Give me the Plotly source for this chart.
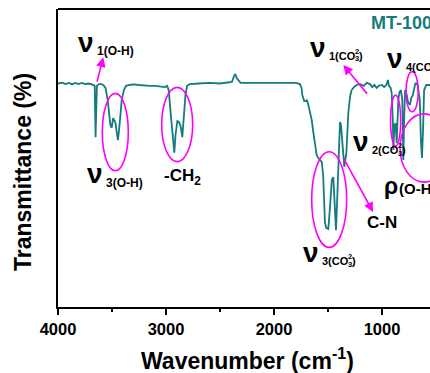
import plotly.graph_objects as go

# ---- data ----
wavenumber = [4000, 3960, 3930, 3900, 3870, 3840, 3810, 3780, 3750, 3720, 3690, 3670, 3660, 3652, 3646,
              3640, 3620, 3600, 3580, 3560, 3540, 3515, 3503, 3490, 3470, 3445, 3430, 3410, 3390, 3370,
              3340, 3300, 3250, 3200, 3150, 3100, 3050, 3010, 2990, 2975, 2955, 2935, 2923, 2912, 2895,
              2880, 2865, 2849, 2835, 2820, 2805, 2780, 2700, 2600, 2500, 2420, 2390, 2370, 2360, 2345,
              2330, 2310, 2200, 2100, 2000, 1900, 1800, 1760, 1745, 1738, 1720, 1705, 1695, 1682, 1665,
              1651, 1635, 1620, 1605, 1590, 1570, 1558, 1545, 1535, 1528, 1515, 1497, 1480, 1465, 1451,
              1440, 1426, 1415, 1404, 1395, 1389, 1380, 1370, 1360, 1349, 1340, 1330, 1312, 1295, 1281,
              1260, 1235, 1200, 1170, 1140, 1111, 1090, 1070, 1050, 1030, 1000, 980, 960, 945, 935,
              920, 910, 900, 895, 885, 875, 864, 855, 849, 838, 825, 812, 803, 795, 786,
              770, 760, 741, 730, 715, 700, 690, 670, 650, 640, 630, 620, 610, 590, 560, 540]
transmittance = [75.0, 75.3, 74.8, 75.2, 74.7, 75.2, 74.8, 75.2, 74.8, 75.0, 74.8, 74.5, 74.2, 57.0, 71.1,
                 74.2, 74.8, 74.8, 74.5, 73.5, 69.5, 61.1, 60.1, 63.4, 62.1, 56.0, 61.1, 69.5, 72.8, 74.2,
                 74.5, 74.7, 74.5, 74.3, 74.2, 74.2, 74.0, 73.8, 74.2, 72.8, 64.4, 56.0, 51.8, 57.7, 62.4,
                 62.1, 60.7, 57.0, 64.4, 71.1, 74.2, 74.8, 75.0, 75.2, 75.0, 75.2, 75.5, 77.5, 78.2, 76.8,
                 76.2, 75.2, 75.2, 75.2, 75.2, 75.0, 75.2, 74.8, 73.5, 71.1, 69.1, 69.1, 69.5, 67.8, 65.4,
                 62.8, 58.4, 53.7, 51.0, 50.0, 49.3, 48.7, 44.3, 35.9, 28.2, 26.5, 26.2, 34.2, 42.6, 43.6,
                 35.9, 25.8, 35.9, 46.0, 59.4, 62.1, 61.1, 56.0, 51.0, 47.0, 49.3, 51.7, 65.1, 70.8, 72.8,
                 73.8, 74.5, 74.8, 74.2, 75.2, 74.8, 73.8, 74.5, 73.5, 74.2, 74.5, 73.8, 74.5, 76.2, 74.2,
                 73.5, 71.8, 62.8, 52.7, 61.1, 61.7, 55.0, 64.4, 69.5, 72.1, 72.8, 69.5, 49.3, 62.8, 72.8,
                 71.1, 68.8, 67.8, 70.1, 71.1, 73.5, 75.2, 74.5, 69.5, 56.0, 50.0, 59.4, 72.8, 74.5, 74.5, 74.2]
x_ticks = [4000, 3000, 2000, 1000]
x_minor_ticks = [3500, 2500, 1500, 500]
series_name = "MT-100"

TEAL = "#167b7d"
MAG = "#ff00ff"
FONT = "Liberation Sans, Arial, sans-serif"

# plot-area geometry in pixels
L, R, T, B = 58, 430, 9, 307
W, H = 430, 373


def paper(px, py):
    return (px - L) / (R - L), (B - py) / (B - T)


fig = go.Figure()
fig.add_trace(go.Scatter(x=wavenumber, y=transmittance, mode="lines",
                         line=dict(color=TEAL, width=1.8), name=series_name,
                         showlegend=False))

annotations = []


def txt(s, px, py, size, anchor="left", color="black"):
    x, y = paper(px, py)
    annotations.append(dict(text="<b>%s</b>" % s, x=x, y=y, xref="paper", yref="paper",
                            xanchor=anchor, yanchor="middle", showarrow=False,
                            font=dict(family=FONT, size=size, color=color)))


def nu_label(sub, px, py, co3=False):
    # Greek letter, then subscript (optionally with stacked 2 / 3 of CO3)
    txt("ν", px, py, 28, "center")
    sx, sy = px + 8.5, py + 9
    if not co3:
        txt(sub, sx, sy, 12)
    else:
        txt(sub + "(CO", sx, sy, 11)
        ex = sx + 26
        txt("2", ex, sy - 5, 7.5)
        txt("3", ex, sy + 3, 7.5)
        txt(")", ex + 4.5, sy, 11)


nu_label("1(O-H)", 86, 42)
nu_label("3(O-H)", 95, 174)
txt("-CH<sub>2</sub>", 182, 177, 17, "center")
nu_label("1", 318, 47, co3=True)
nu_label("4", 395, 58, co3=True)
nu_label("2", 361, 141, co3=True)
nu_label("3", 311, 252, co3=True)
txt("ρ", 391, 186, 23, "center")
txt("(O-H", 397, 188, 15)
txt("C-N", 381.5, 222.5, 17, "center")
txt(series_name, 369, 23, 18, "left", TEAL)

# arrows (data coordinates)
for (hx, hy, tx, ty) in [(3581, 83.8, 3642, 75.1), (1358, 81.2, 1127, 71.1), (1083, 31.9, 1361, 50.3)]:
    annotations.append(dict(x=hx, y=hy, ax=tx, ay=ty, xref="x", yref="y", axref="x", ayref="y",
                            text="", showarrow=True, arrowhead=2, arrowsize=1.2, arrowwidth=1.6,
                            arrowcolor=MAG))

# x-title and y-title
xt, yt = paper(247, 359)
annotations.append(dict(text="<b>Wavenumber (cm<sup>-1</sup>)</b>", x=xt, y=yt, xref="paper", yref="paper",
                        xanchor="center", yanchor="middle", showarrow=False,
                        font=dict(family=FONT, size=23, color="black")))
xt, yt = paper(23, 172)
annotations.append(dict(text="<b>Transmittance (%)</b>", x=xt, y=yt, xref="paper", yref="paper",
                        xanchor="center", yanchor="middle", showarrow=False, textangle=-90,
                        font=dict(family=FONT, size=23, color="black")))

# ellipses (data coordinates)
shapes = []
for (x0, x1, y0, y1) in [(3590, 3349, 71.7, 45.7), (3040, 2753, 73.7, 48.8), (1651, 1327, 52.1, 20.0),
                         (921, 827, 71.1, 54.0), (778, 664, 79.0, 65.5), (833, 389, 64.8, 41.9)]:
    shapes.append(dict(type="circle", xref="x", yref="y", x0=x0, x1=x1, y0=y0, y1=y1,
                       line=dict(color=MAG, width=1.6)))
shapes.append(dict(type="line", xref="paper", yref="paper", x0=0, x1=1, y0=1, y1=1,
                   line=dict(color="black", width=2)))

x_right = 4000 - (R - L) / 0.108
fig.update_layout(
    width=W, height=H, margin=dict(l=L, r=W - R, t=T, b=H - B),
    paper_bgcolor="white", plot_bgcolor="white",
    annotations=annotations, shapes=shapes,
    xaxis=dict(range=[4000, x_right], tickvals=x_ticks, ticktext=[str(v) for v in x_ticks],
               ticks="outside", ticklen=6, tickwidth=2, tickcolor="black",
               minor=dict(tickvals=x_minor_ticks, ticks="outside", ticklen=3, tickwidth=2, tickcolor="black"),
               showline=True, linewidth=2, linecolor="black", showgrid=False, zeroline=False,
               tickfont=dict(family=FONT, size=16.5, color="black", weight="bold")),
    yaxis=dict(range=[0, 100], showticklabels=False, ticks="", showline=True, linewidth=2,
               linecolor="black", showgrid=False, zeroline=False),
)
fig.write_html("out.html", config={"displayModeBar": False},
               post_script="document.body.style.margin='0';document.body.style.overflow='hidden';")
